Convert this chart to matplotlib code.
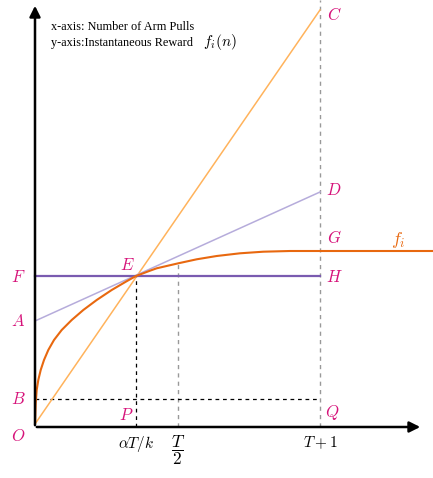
import matplotlib.pyplot as plt

plt.rcParams['mathtext.fontset'] = 'cm'

# -----------------------
# DATA (origin O at 0,0)
# -----------------------

# curve f_i(n)
curve_x = [0, 0.7, 1.7, 3.3, 5.7, 9, 13.3, 19, 26.7, 36.7, 48.3, 61.7, 76.7,
           91.7, 101, 115, 121.7, 143.3, 161.7, 181.7, 205, 228.3, 255, 285, 398]
curve_y = [3, 23.7, 37, 47, 57, 67, 77, 87, 97, 107, 117, 127, 137,
           145.8, 151, 156.3, 158.7, 163.7, 167.7, 171, 173.7, 175.3, 176, 176, 176]

# key points
pt_O = (0, 3)
pt_E = (101, 151)
pt_C = (285, 417)
pt_A = (0, 106)
pt_D = (285, 235)
y_B = 28
x_half = 143
y_half = 163.7
x_end = 285

x_ticks = [101, 143, 285]
x_tick_labels = [r'$\alpha T/k$', r'$\dfrac{T}{2}$', r'$T+1$']
x_tick_sizes = [11, 12.5, 11]

magenta = '#d6137a'
orange_dark = '#e8680f'

# -----------------------
# FIGURE
# -----------------------

fig = plt.figure(figsize=(4.33, 4.78), dpi=100)
ax = fig.add_axes([0, 0, 1, 1])
ax.set_xlim(-35, 398)
ax.set_ylim(-51, 427)
ax.axis('off')

# guide lines
ax.plot([x_end, x_end], [0, 427], color='#999999', lw=1, ls=(0, (3, 3)))
ax.plot([x_half, x_half], [0, y_half], color='#999999', lw=1, ls=(0, (3, 3)))
ax.plot([pt_E[0], pt_E[0]], [0, pt_E[1]], color='black', lw=0.9, ls=(0, (3, 3)))
ax.plot([0, x_end], [y_B, y_B], color='black', lw=0.9, ls=(0, (3, 3)))

# lines
ax.plot([pt_O[0], pt_C[0]], [pt_O[1], pt_C[1]], color='#ffb35c', lw=1.1)
ax.plot([pt_A[0], pt_D[0]], [pt_A[1], pt_D[1]], color='#b6acdb', lw=1.1)
ax.plot([0, x_end], [pt_E[1], pt_E[1]], color='#7a5bb0', lw=1.6)
ax.plot(curve_x, curve_y, color=orange_dark, lw=1.5, solid_joinstyle='round')

# axes with arrows
ax.annotate('', xy=(388, 0), xytext=(-1, 0),
            arrowprops=dict(arrowstyle='-|>', lw=1.8, color='black', mutation_scale=16))
ax.annotate('', xy=(0, 424), xytext=(0, -1),
            arrowprops=dict(arrowstyle='-|>', lw=1.8, color='black', mutation_scale=16))

# point labels
labels = [
    ('C', 299, 412), ('D', 299, 237), ('G', 299, 189), ('H', 299, 150),
    ('E', 92, 162), ('F', -17, 150), ('A', -17, 106), ('B', -17, 28),
    ('O', -17, -9), ('P', 91, 12), ('Q', 297, 14),
]
for name, x, y in labels:
    ax.text(x, y, '$' + name + '$', color=magenta, fontsize=12,
            ha='center', va='center')
ax.text(363, 187, r'$f_i$', color=orange_dark, fontsize=13, ha='center', va='center')

# tick labels
for x, lab, fs in zip(x_ticks, x_tick_labels, x_tick_sizes):
    ax.text(x, -7, lab, fontsize=fs, ha='center', va='top')

# description
ax.text(16, 400, 'x-axis: Number of Arm Pulls', fontsize=8.8,
        family='Liberation Serif', va='center')
ax.text(16, 384, 'y-axis:Instantaneous Reward', fontsize=8.8,
        family='Liberation Serif', va='center')
ax.text(168, 385, '$f_i(n)$', fontsize=11, va='center')

fig.savefig('out.png', dpi=100)
